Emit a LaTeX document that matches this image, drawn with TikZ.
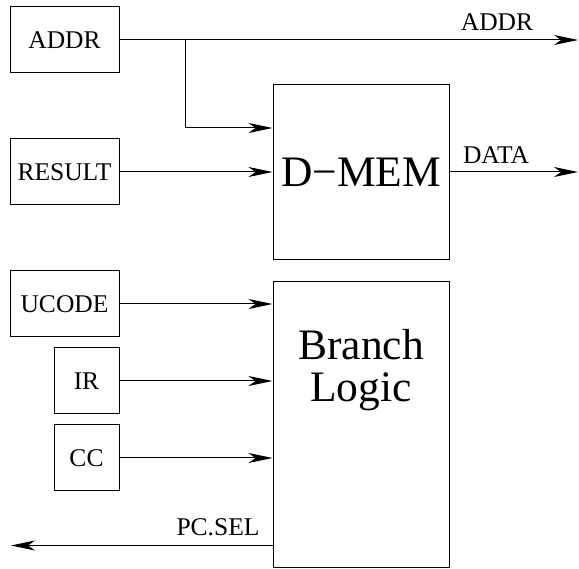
\documentclass[tikz,border=0pt]{standalone}
\usepackage{fontspec}
\setmainfont{Liberation Serif}
\usetikzlibrary{arrows.meta}
\begin{document}
\begin{tikzpicture}[x=1pt,y=-1pt,
  wire/.style={line width=1pt},
  arr/.style={wire,-{Stealth[length=24pt,width=10pt,inset=7pt]}},
  regbox/.style={draw,line width=1pt,minimum width=109pt,minimum height=66pt,
    inner sep=0pt,font=\fontsize{25.5}{28}\selectfont},
  smallbox/.style={regbox,minimum width=65pt},
  bigbox/.style={draw,line width=1pt,minimum width=176pt,inner sep=0pt},
  bigtext/.style={inner sep=0pt,align=center,font=\fontsize{43.5}{42}\selectfont},
  lbl/.style={inner sep=0pt,font=\fontsize{25.5}{28}\selectfont}]
\useasboundingbox (0,0) rectangle (579,569);

% source registers
\node[regbox] (addr) at (64.5,40) {ADDR};
\node[regbox] (result) at (64.5,172) {RESULT};
\node[regbox] (ucode) at (64.5,304) {UCODE};
\node[smallbox] (ir) at (86.5,381) {IR};
\node[smallbox] (cc) at (86.5,458) {CC};

% functional blocks
\node[bigbox,bigtext,minimum height=175pt] (dmem) at (361,172.5) {D\textminus MEM};
\node[bigbox,minimum height=285pt] (branch) at (361,424.5) {};
% base anchor of a two-line node sits on the last line
\node[bigtext,anchor=base] (branchtxt) at (361,402) {Branch\\Logic};

% connector end points
\coordinate (tap) at (185,40);
\coordinate (addrout) at (578,40);
\coordinate (dataout) at (578,172);
\coordinate (pcout) at (11,545.5);

% address bus
\draw[arr] (addr.east) -- (addrout);
\draw[arr] (tap) |- (dmem.west |- {0,128});
\node[lbl] (addrlbl) at (497,22) {ADDR};

% data path
\draw[arr] (result.east) -- (result.east -| dmem.west);
\draw[arr] (dmem.east |- dataout) -- (dataout);
\node[lbl] (datalbl) at (496,155) {DATA};

% branch inputs
\draw[arr] (ucode.east) -- (ucode.east -| branch.west);
\draw[arr] (ir.east) -- (ir.east -| branch.west);
\draw[arr] (cc.east) -- (cc.east -| branch.west);

% branch output
\draw[arr] (branch.west |- pcout) -- (pcout);
\node[lbl] (pclbl) at (218,527) {PC.SEL};
\end{tikzpicture}
\end{document}
